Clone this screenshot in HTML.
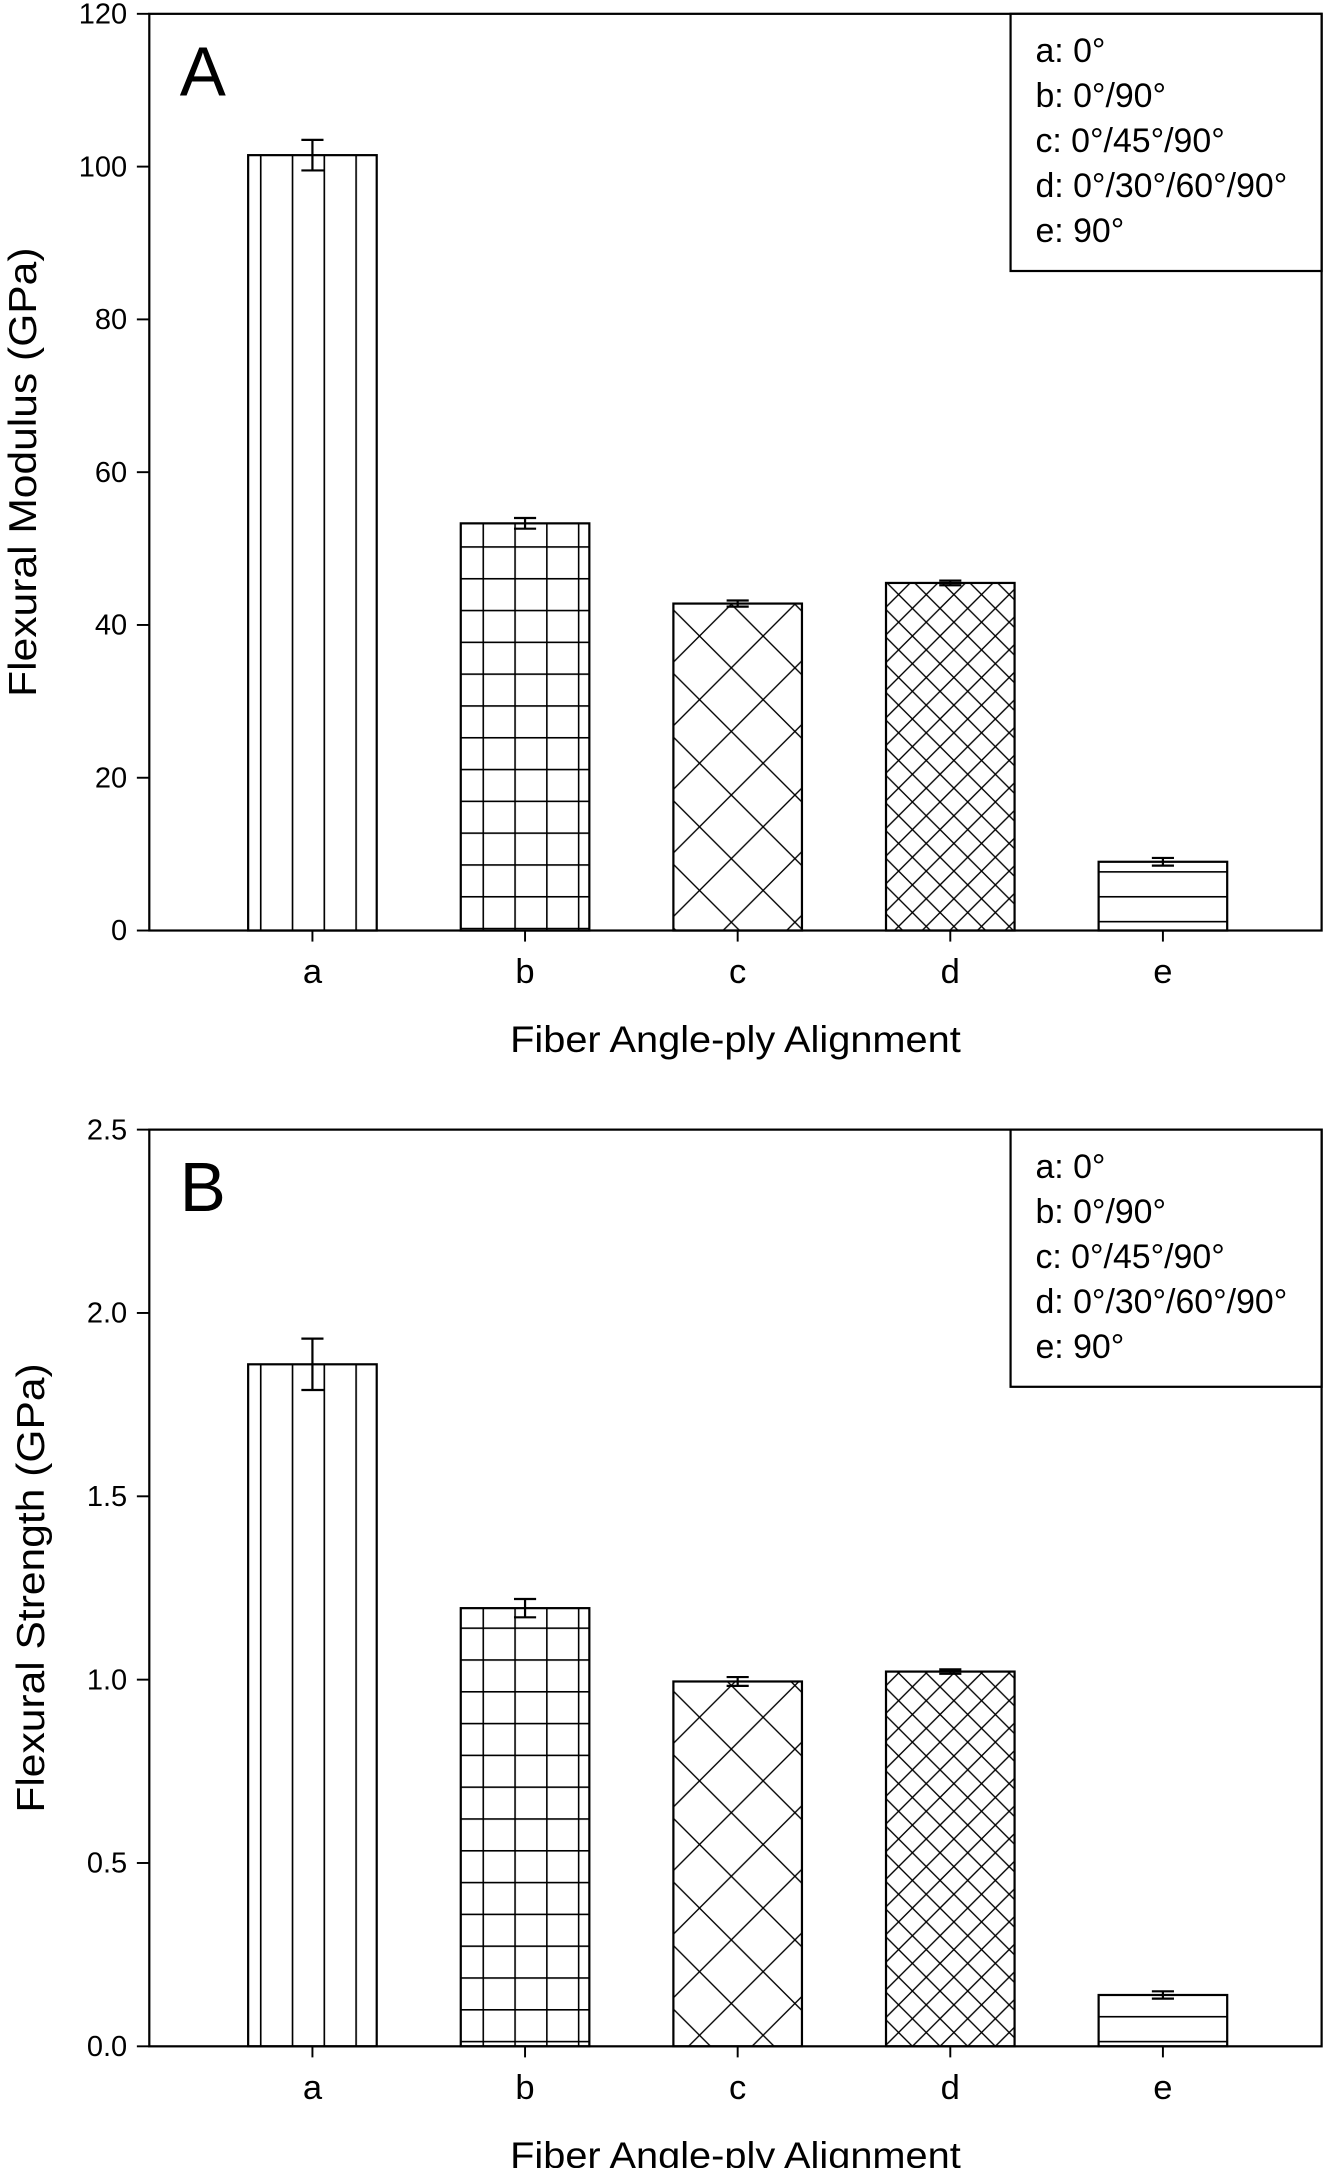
<!DOCTYPE html>
<html><head><meta charset="utf-8">
<style>
html,body{margin:0;padding:0;background:#fff;}
svg{display:block;}
text{font-family:"Liberation Sans",Arial,sans-serif;fill:#000;}
</style></head>
<body>
<svg id="fig" width="1323" height="2168" viewBox="0 0 957 1568" preserveAspectRatio="none" xmlns="http://www.w3.org/2000/svg">
<defs>
<pattern id="pa" patternUnits="userSpaceOnUse" width="23" height="40" x="4" y="0">
<line x1="0.5" y1="0" x2="0.5" y2="40" stroke="#000" stroke-width="1.4"/></pattern>
<pattern id="pb" patternUnits="userSpaceOnUse" width="23" height="23" x="4" y="4">
<line x1="0.5" y1="0" x2="0.5" y2="23" stroke="#000" stroke-width="1.3"/>
<line x1="0" y1="0.5" x2="23" y2="0.5" stroke="#000" stroke-width="1.3"/></pattern>
<pattern id="pc" patternUnits="userSpaceOnUse" width="46" height="46">
<path d="M0 0 L46 46 M46 0 L0 46 M-23 23 L23 69 M23 -23 L69 23 M-23 23 L23 -23 M23 69 L69 23" stroke="#000" stroke-width="1" fill="none"/></pattern>
<pattern id="pd" patternUnits="userSpaceOnUse" width="20" height="20">
<path d="M0 0 L20 20 M20 0 L0 20 M-10 10 L10 30 M10 -10 L30 10 M-10 10 L10 -10 M10 30 L30 10" stroke="#000" stroke-width="1" fill="none"/></pattern>
<pattern id="pe" patternUnits="userSpaceOnUse" width="40" height="18" x="0" y="0">
<line x1="0" y1="0.5" x2="40" y2="0.5" stroke="#000" stroke-width="1.3"/></pattern>
</defs>
<g id="chartA"></g>
<g id="chartB"></g>
</svg>
<script>
const categories = ["a","b","c","d","e"];
const legendLabels = ["a: 0°","b: 0°/90°","c: 0°/45°/90°","d: 0°/30°/60°/90°","e: 90°"];
const modulusValues = [101.5, 53.3, 42.8, 45.5, 9.0];
const modulusErrors = [2.0, 0.7, 0.4, 0.3, 0.5];
const modulusTicks = [0, 20, 40, 60, 80, 100, 120];
const modulusTickLabels = ["0","20","40","60","80","100","120"];
const strengthValues = [1.86, 1.195, 0.995, 1.022, 0.14];
const strengthErrors = [0.07, 0.025, 0.012, 0.006, 0.01];
const strengthTicks = [0, 0.5, 1.0, 1.5, 2.0, 2.5];
const strengthTickLabels = ["0.0","0.5","1.0","1.5","2.0","2.5"];

const NS = "http://www.w3.org/2000/svg";
const patterns = ["url(#pa)","url(#pb)","url(#pc)","url(#pd)","url(#pe)"];
function mk(parent, tag, attrs, txt){
  const e = document.createElementNS(NS, tag);
  for (const k in attrs) e.setAttribute(k, attrs[k]);
  if (txt !== undefined) e.textContent = txt;
  parent.appendChild(e);
  return e;
}
function drawChart(g, cfg){
  const L=108, R=957, T=cfg.top, B=cfg.top+663;
  const y = v => B - (v - 0) / (cfg.max) * (B - T);
  const x = i => 226 + i * 153.8;
  const bw = 93;
  const frame = mk(g,"rect",{x:L,y:T,width:R-L-1,height:B-T,fill:"none",stroke:"#000","stroke-width":1.6});
  
  
  cfg.ticks.forEach((t,i)=>{
    const tk = mk(g,"line",{x1:L-9,x2:L,y1:y(t),y2:y(t),stroke:"#000","stroke-width":1.4});
    
    
    const tl = mk(g,"text",{x:L-16,y:y(t)+7,"text-anchor":"end","font-size":21},cfg.tickLabels[i]);
    
    
  });
  categories.forEach((c,i)=>{
    const v = cfg.values[i], e = cfg.errors[i];
    const bar = mk(g,"rect",{x:x(i)-bw/2,y:y(v),width:bw,height:B-y(v),fill:patterns[i],stroke:"#000","stroke-width":1.6});
    
    
    const eb = mk(g,"path",{d:`M${x(i)} ${y(v+e)} V${y(v-e)} M${x(i)-8} ${y(v+e)} H${x(i)+8} M${x(i)-8} ${y(v-e)} H${x(i)+8}`,stroke:"#000","stroke-width":1.6,fill:"none"});
    
    
    const xt = mk(g,"line",{x1:x(i),x2:x(i),y1:B,y2:B+8,stroke:"#000","stroke-width":1.4});
    
    
    const xl = mk(g,"text",{x:x(i),y:B+38,"text-anchor":"middle","font-size":25},c);
    
    
  });
  const xa = mk(g,"text",{x:532,y:B+88,"text-anchor":"middle","font-size":27,textLength:326,lengthAdjust:"spacingAndGlyphs"},"Fiber Angle-ply Alignment");
  
  
  const cy = (T+B)/2 + cfg.yoff;
  const ya = mk(g,"text",{x:cfg.ylx,y:cy,"text-anchor":"middle","font-size":28,textLength:325,lengthAdjust:"spacingAndGlyphs",transform:`rotate(-90 ${cfg.ylx} ${cy})`},cfg.ylabel);
  
  
  const pl = mk(g,"text",{x:130,y:T+59,"font-size":50},cfg.panel);
  
  
  const lg = mk(g,"rect",{x:731,y:T,width:225,height:186,fill:"#fff",stroke:"#000","stroke-width":1.6});
  
  
  legendLabels.forEach((s,i)=>{
    const le = mk(g,"text",{x:749,y:T+35+i*32.5,"font-size":24.5},s);
    
    
  });
}
drawChart(document.getElementById("chartA"),{top:10,max:120,values:modulusValues,errors:modulusErrors,ticks:modulusTicks,tickLabels:modulusTickLabels,ylabel:"Flexural Modulus (GPa)",ylx:26,yoff:0,panel:"A"});
drawChart(document.getElementById("chartB"),{top:817,max:2.5,values:strengthValues,errors:strengthErrors,ticks:strengthTicks,tickLabels:strengthTickLabels,ylabel:"Flexural Strength (GPa)",ylx:32,yoff:0,panel:"B"});
</script>
</body></html>
